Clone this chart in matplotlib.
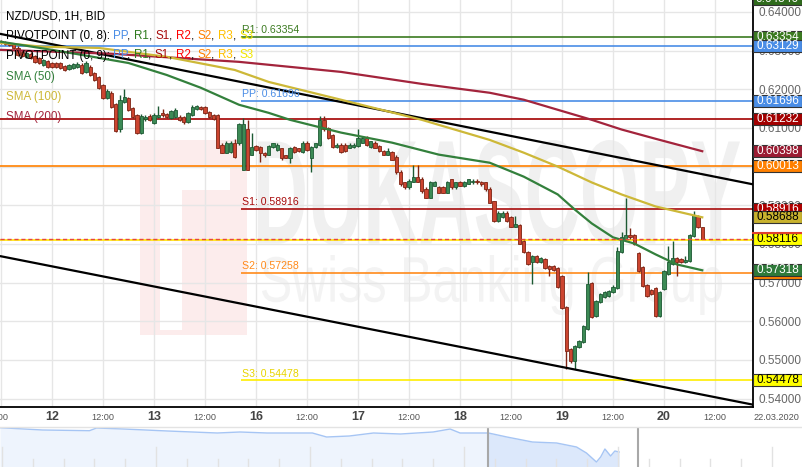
import numpy as np
import matplotlib
matplotlib.use("Agg")
import matplotlib.pyplot as plt
from matplotlib.patches import Rectangle, PathPatch
from matplotlib.lines import Line2D
from matplotlib.textpath import TextPath
from matplotlib.font_manager import FontProperties
from matplotlib.ticker import FormatStrFormatter
from matplotlib.transforms import Affine2D, blended_transform_factory

plt.rcParams["font.family"] = ["Liberation Sans", "DejaVu Sans"]

# Świece godzinowe NZD/USD, od 11.03 12:00 do 20.03 09:00
opens = [
    0.6325, 0.6323, 0.6320, 0.6317, 0.6307, 0.6297, 0.6284, 0.6292, 0.6287, 0.6281,
    0.6263, 0.6274, 0.6268, 0.6268, 0.6268, 0.6261, 0.6253, 0.6256, 0.6258, 0.6263,
    0.6245, 0.6258, 0.6243, 0.6232, 0.6212, 0.6178, 0.6191, 0.6163, 0.6096, 0.6168,
    0.6178, 0.6152, 0.6134, 0.6088, 0.6124, 0.6132, 0.6114, 0.6129, 0.6139, 0.6137,
    0.6127, 0.6129, 0.6129, 0.6129, 0.6116, 0.6134, 0.6150, 0.6155, 0.6155, 0.6142,
    0.6134, 0.6134, 0.6057, 0.6036, 0.6039, 0.6062, 0.6062, 0.5992, 0.6098, 0.6031,
    0.6054, 0.6052, 0.6036, 0.6031, 0.6052, 0.6044, 0.6047, 0.6029, 0.6021, 0.6052,
    0.6047, 0.6039, 0.6062, 0.6023, 0.6052, 0.6057, 0.6121, 0.6101, 0.6083, 0.6052,
    0.6057, 0.6057, 0.6049, 0.6052, 0.6054, 0.6062, 0.6075, 0.6052, 0.6062, 0.6054,
    0.6041, 0.6031, 0.6039, 0.6026, 0.5987, 0.5959, 0.5946, 0.5961, 0.5974, 0.5969,
    0.5943, 0.5920, 0.5951, 0.5946, 0.5946, 0.5933, 0.5967, 0.5946, 0.5961, 0.5949,
    0.5956, 0.5959, 0.5964, 0.5961, 0.5959, 0.5943, 0.5910, 0.5858, 0.5869, 0.5881,
    0.5869, 0.5845, 0.5848, 0.5807, 0.5778, 0.5752, 0.5768, 0.5752, 0.5760, 0.5742,
    0.5742, 0.5737, 0.5716, 0.5636, 0.5528, 0.5497, 0.5533, 0.5546, 0.5580, 0.5698,
    0.5613, 0.5649, 0.5662, 0.5665, 0.5675, 0.5685, 0.5778, 0.5814, 0.5822, 0.5822,
    0.5776, 0.5740, 0.5693, 0.5680, 0.5685, 0.5613, 0.5683, 0.5721, 0.5747, 0.5763,
    0.5760, 0.5752, 0.5755, 0.5820, 0.5871, 0.5843,
]
highs = [
    0.6328, 0.6325, 0.6323, 0.6320, 0.6312, 0.6302, 0.6299, 0.6297, 0.6289, 0.6284,
    0.6279, 0.6276, 0.6271, 0.6271, 0.6271, 0.6263, 0.6266, 0.6268, 0.6271, 0.6268,
    0.6274, 0.6263, 0.6245, 0.6235, 0.6214, 0.6201, 0.6196, 0.6165, 0.6186, 0.6201,
    0.6181, 0.6155, 0.6137, 0.6137, 0.6134, 0.6137, 0.6139, 0.6158, 0.6150, 0.6139,
    0.6147, 0.6152, 0.6134, 0.6132, 0.6142, 0.6160, 0.6160, 0.6158, 0.6158, 0.6145,
    0.6137, 0.6137, 0.6060, 0.6065, 0.6067, 0.6072, 0.6114, 0.6127, 0.6121, 0.6088,
    0.6057, 0.6054, 0.6039, 0.6057, 0.6062, 0.6060, 0.6049, 0.6031, 0.6052, 0.6054,
    0.6049, 0.6065, 0.6065, 0.6054, 0.6062, 0.6132, 0.6132, 0.6103, 0.6085, 0.6060,
    0.6060, 0.6060, 0.6060, 0.6060, 0.6098, 0.6078, 0.6078, 0.6067, 0.6065, 0.6057,
    0.6044, 0.6047, 0.6041, 0.6029, 0.5990, 0.5961, 0.5967, 0.6005, 0.6005, 0.5972,
    0.5946, 0.5964, 0.5964, 0.5949, 0.5949, 0.5964, 0.5969, 0.5961, 0.5964, 0.5964,
    0.5969, 0.5969, 0.5967, 0.5964, 0.5961, 0.5946, 0.5912, 0.5884, 0.5884, 0.5884,
    0.5871, 0.5871, 0.5851, 0.5809, 0.5781, 0.5771, 0.5771, 0.5765, 0.5763, 0.5745,
    0.5745, 0.5740, 0.5719, 0.5639, 0.5531, 0.5538, 0.5551, 0.5590, 0.5727, 0.5701,
    0.5654, 0.5672, 0.5678, 0.5680, 0.5693, 0.5791, 0.5830, 0.5918, 0.5840, 0.5825,
    0.5778, 0.5742, 0.5696, 0.5683, 0.5688, 0.5678, 0.5732, 0.5794, 0.5807, 0.5765,
    0.5763, 0.5768, 0.5825, 0.5884, 0.5874, 0.5845,
]
lows = [
    0.6317, 0.6315, 0.6312, 0.6305, 0.6287, 0.6284, 0.6281, 0.6279, 0.6268, 0.6266,
    0.6261, 0.6256, 0.6256, 0.6256, 0.6253, 0.6248, 0.6250, 0.6253, 0.6256, 0.6240,
    0.6243, 0.6235, 0.6222, 0.6201, 0.6176, 0.6176, 0.6152, 0.6090, 0.6090, 0.6165,
    0.6145, 0.6127, 0.6085, 0.6085, 0.6119, 0.6119, 0.6111, 0.6127, 0.6129, 0.6127,
    0.6124, 0.6127, 0.6119, 0.6111, 0.6114, 0.6132, 0.6147, 0.6147, 0.6137, 0.6127,
    0.6121, 0.6047, 0.6034, 0.6034, 0.6036, 0.6023, 0.6057, 0.5990, 0.5990, 0.6029,
    0.6041, 0.6013, 0.6026, 0.6029, 0.6049, 0.6041, 0.6018, 0.6021, 0.6010, 0.6036,
    0.6039, 0.6036, 0.6041, 0.5987, 0.6049, 0.6054, 0.6093, 0.6072, 0.6049, 0.6049,
    0.6036, 0.6039, 0.6047, 0.6049, 0.6052, 0.6060, 0.6054, 0.6049, 0.6047, 0.6039,
    0.6029, 0.6029, 0.6016, 0.5982, 0.5949, 0.5943, 0.5943, 0.5959, 0.5959, 0.5933,
    0.5918, 0.5918, 0.5949, 0.5931, 0.5931, 0.5931, 0.5943, 0.5943, 0.5949, 0.5946,
    0.5954, 0.5956, 0.5956, 0.5951, 0.5938, 0.5905, 0.5856, 0.5856, 0.5866, 0.5856,
    0.5843, 0.5843, 0.5799, 0.5776, 0.5745, 0.5696, 0.5750, 0.5750, 0.5734, 0.5716,
    0.5729, 0.5685, 0.5631, 0.5476, 0.5492, 0.5476, 0.5531, 0.5543, 0.5577, 0.5608,
    0.5611, 0.5647, 0.5660, 0.5662, 0.5672, 0.5683, 0.5776, 0.5812, 0.5814, 0.5796,
    0.5727, 0.5688, 0.5662, 0.5667, 0.5611, 0.5611, 0.5680, 0.5719, 0.5745, 0.5716,
    0.5750, 0.5750, 0.5752, 0.5817, 0.5840, 0.5812,
]
closes = [
    0.6320, 0.6317, 0.6315, 0.6307, 0.6289, 0.6287, 0.6294, 0.6281, 0.6271, 0.6268,
    0.6276, 0.6258, 0.6258, 0.6258, 0.6256, 0.6250, 0.6263, 0.6266, 0.6266, 0.6243,
    0.6268, 0.6237, 0.6225, 0.6204, 0.6178, 0.6196, 0.6155, 0.6093, 0.6173, 0.6181,
    0.6147, 0.6129, 0.6088, 0.6132, 0.6129, 0.6121, 0.6134, 0.6134, 0.6134, 0.6129,
    0.6145, 0.6147, 0.6121, 0.6116, 0.6139, 0.6155, 0.6158, 0.6150, 0.6139, 0.6129,
    0.6124, 0.6049, 0.6036, 0.6062, 0.6062, 0.6026, 0.6109, 0.6111, 0.5992, 0.6052,
    0.6044, 0.6036, 0.6029, 0.6054, 0.6060, 0.6057, 0.6021, 0.6023, 0.6049, 0.6039,
    0.6041, 0.6062, 0.6044, 0.6052, 0.6060, 0.6121, 0.6096, 0.6075, 0.6052, 0.6057,
    0.6039, 0.6041, 0.6057, 0.6057, 0.6075, 0.6075, 0.6057, 0.6065, 0.6049, 0.6041,
    0.6031, 0.6041, 0.6018, 0.5985, 0.5954, 0.5946, 0.5964, 0.5972, 0.5961, 0.5936,
    0.5920, 0.5961, 0.5961, 0.5933, 0.5933, 0.5961, 0.5946, 0.5959, 0.5951, 0.5961,
    0.5967, 0.5964, 0.5959, 0.5954, 0.5941, 0.5907, 0.5858, 0.5881, 0.5881, 0.5858,
    0.5845, 0.5851, 0.5801, 0.5778, 0.5747, 0.5768, 0.5752, 0.5763, 0.5737, 0.5734,
    0.5732, 0.5688, 0.5634, 0.5523, 0.5497, 0.5536, 0.5549, 0.5587, 0.5696, 0.5611,
    0.5652, 0.5670, 0.5675, 0.5678, 0.5688, 0.5781, 0.5817, 0.5822, 0.5817, 0.5799,
    0.5729, 0.5691, 0.5665, 0.5670, 0.5613, 0.5675, 0.5729, 0.5752, 0.5763, 0.5752,
    0.5752, 0.5758, 0.5822, 0.5874, 0.5843, 0.58116,
]

# Średnie kroczące (numer świecy, wartość)
sma50_idx = [0, 12, 19, 30, 39, 47, 56, 63, 68, 80, 92, 103, 115, 123, 131, 135, 139, 144, 149, 154, 159, 165]
sma50_val = [0.6323, 0.6302, 0.6289, 0.6268, 0.6237, 0.6204, 0.6160, 0.6139, 0.6121, 0.6088, 0.6062,
             0.6031, 0.6010, 0.5974, 0.5928, 0.5889, 0.5853, 0.5817, 0.5801, 0.5773, 0.5747, 0.57318]
sma100_idx = [0, 10, 23, 39, 55, 63, 80, 99, 115, 123, 131, 139, 146, 154, 165]
sma100_val = [0.6320, 0.6310, 0.6307, 0.6284, 0.6250, 0.6219, 0.6173, 0.6121, 0.6069, 0.6036,
              0.6000, 0.5959, 0.5928, 0.5897, 0.58688]
sma200_idx = [0, 26, 56, 80, 99, 115, 123, 131, 139, 146, 154, 165]
sma200_val = [0.6302, 0.6292, 0.6271, 0.6245, 0.6214, 0.6191, 0.6173, 0.6147, 0.6121, 0.6096,
              0.6072, 0.60398]

# Linie trendu
trend_up_idx = [0, 177]
trend_up_val = [0.6343, 0.5954]
trend_down_idx = [0, 177]
trend_down_val = [0.5768, 0.5384]

# Pivot (0, 8)
pivot8_names = ["R1", "PP", "S1", "S2", "S3"]
pivot8_vals = [0.63354, 0.61696, 0.58916, 0.57258, 0.54478]
pivot8_cols = ["#3b7a20", "#4a8de6", "#a80c0c", "#ff8a1a", "#ffee00"]
pivot8_txt = ["#3b7a20", "#4a8de6", "#a80c0c", "#ff8a1a", "#e8d400"]
# Pivot (0, 9)
pivot9_vals = [0.63129, 0.61232, 0.60013, 0.58100]
pivot9_cols = ["#4a8de6", "#a30000", "#ff8000", "#ffe600"]
last_price = 0.58116

# Znaczniki po prawej (rysowane po kolei)
box_vals = [0.64546, 0.63354, 0.63129, 0.61696, 0.61232, 0.60398, 0.60013, 0.58916, 0.58688,
            0.58116, 0.57258, 0.57318, 0.54478]
box_fc = ["#2f6b1c", "#3b7a20", "#4a8de6", "#4a8de6", "#a30000", "#9b1b32", "#ff8000", "#b00000",
          "#c8b22e", "#ffff00", "#ff8000", "#2f7a3a", "#ffff00"]
box_tc = ["white", "white", "white", "white", "white", "white", "white", "white", "black",
          "black", "white", "white", "black"]

day_ticks = [12, 36, 60, 84, 108, 132, 156]
day_labels = ["12", "13", "16", "17", "18", "19", "20"]
half_ticks = [0, 24, 48, 72, 96, 120, 144, 168]

# Nawigator (dni, cena)
nav_days = [0.0, 3.0, 6.3, 6.8, 8.7, 11.8, 15.3, 16.9, 18.8, 22.0, 23.0, 24.6, 26.3, 28.2, 30.5,
            31.7, 32.4, 34.4, 35.7, 37.5, 39.2, 40.6, 41.3, 42.0, 42.3, 42.6, 43.0, 43.3, 43.6]
nav_vals = [0.6474, 0.6407, 0.6387, 0.6465, 0.6436, 0.6378, 0.6320, 0.6349, 0.6320, 0.6320, 0.6204,
            0.6233, 0.6320, 0.6291, 0.6349, 0.6436, 0.6320, 0.6320, 0.6204, 0.6059, 0.6030, 0.5914,
            0.5740, 0.5479, 0.5624, 0.5856, 0.5653, 0.5798, 0.5769]
nav_window = [34.4, 44.9]

W, H = 803, 467
fig = plt.figure(figsize=(W / 100, H / 100), dpi=100)
PX = Affine2D().scale(1 / W, -1 / H).translate(0, 1) + fig.transFigure

ax = fig.add_axes([0, (H - 407) / H, 753 / W, 407 / H])
ax.set_xlim(-0.235, 176.94)
ax.set_ylim(0.53781, 0.64310)

ax.set_xticks(np.arange(0, 177, 12))
ax.set_yticks(np.round(np.arange(0.54, 0.6401, 0.01), 2))
ax.grid(True, color="#e6e6e6", lw=1)
ax.set_axisbelow(True)
ax.tick_params(axis="x", length=0, labelbottom=False)
ax.yaxis.tick_right()
ax.tick_params(axis="y", length=0, pad=4, labelsize=8.5, labelcolor="#666666")
ax.yaxis.set_major_formatter(FormatStrFormatter("%.5f"))
for s in ["top", "left"]:
    ax.spines[s].set_visible(False)
for s in ["right", "bottom"]:
    ax.spines[s].set_color("black")
    ax.spines[s].set_linewidth(1.3)


# Znak wodny
def fit_text(s, box, color, weight):
    tp = TextPath((0, 0), s, size=100, prop=FontProperties(family="Liberation Sans", weight=weight))
    bb = tp.get_extents()
    x0, y0, x1, y1 = box
    tr = Affine2D().translate(-bb.x0, -bb.y0).scale((x1 - x0) / bb.width, -(y1 - y0) / bb.height)
    tr = tr.translate(x0, y1) + PX
    ax.add_patch(PathPatch(tp, transform=tr, fc=color, ec="none", zorder=0.2))


ax.add_patch(Rectangle((140, 140), 107, 195, transform=PX, fc="#fcecec", ec="none", zorder=0.1))
ax.add_patch(Rectangle((160, 168), 22, 162, transform=PX, fc="white", ec="none", zorder=0.15))
ax.add_patch(Rectangle((160, 168), 70, 22, transform=PX, fc="white", ec="none", zorder=0.15))
fit_text("DUKASCOPY", (258, 140, 740, 245), "#f0f0f0", "bold")
fit_text("Swiss Banking Group", (262, 255, 722, 315), "#f3f3f3", "normal")

# Poziomy pivot
for v, c in zip(pivot9_vals, pivot9_cols):
    ax.axhline(v, color=c, lw=1.2, zorder=1.5)
start = (241 - 1) / 4.25
for name, v, c, tc in zip(pivot8_names, pivot8_vals, pivot8_cols, pivot8_txt):
    ax.hlines(v, start, 177, color=c, lw=1.2, zorder=1.5)
    ax.text(start + 0.2, v + 0.0004, f"{name}: {v:.5f}", color=tc, fontsize=7.6,
            va="bottom", ha="left", zorder=6)

# Świece
o = np.array(opens)
h = np.array(highs)
l = np.array(lows)
c = np.array(closes)
idx = np.arange(len(o))
up = c >= o
face = np.where(up, "#3c8a55", "#cc4530")
edge = np.where(up, "#1d5a33", "#7e2414")
ax.vlines(idx, l, h, colors=edge, lw=1, zorder=3)
ax.bar(idx, np.maximum(np.abs(c - o), 0.00025), bottom=np.minimum(o, c), width=0.72,
       color=face, edgecolor=edge, linewidth=0.6, zorder=3.5)

# Linie trendu i średnie
ax.plot(trend_up_idx, trend_up_val, color="black", lw=1.6, zorder=4)
ax.plot(trend_down_idx, trend_down_val, color="black", lw=1.6, zorder=4)
ax.plot(sma200_idx, sma200_val, color="#a3243c", lw=1.6, zorder=4.2)
ax.plot(sma100_idx, sma100_val, color="#cdb838", lw=1.6, zorder=4.2)
ax.plot(sma50_idx, sma50_val, color="#33803c", lw=1.6, zorder=4.2)
ax.axhline(last_price, color="#e8473b", lw=1, ls=(0, (3, 2)), zorder=4.5)

# Znaczniki cen po prawej
box_tr = blended_transform_factory(PX, ax.transData)
bh = 12 * 0.0002587
for k, (v, fc, tc) in enumerate(zip(box_vals, box_fc, box_tc)):
    yv = min(v, 0.64336)
    z = 7 + 0.1 * k
    ax.add_patch(Rectangle((753, yv - bh / 2), 49, bh, transform=box_tr, fc=fc, ec="#333333",
                           lw=0.8, clip_on=False, zorder=z))
    ax.text(777.5, yv, f"{v:.5f}", transform=box_tr, ha="center", va="center", color=tc,
            fontsize=8.5, clip_on=False, zorder=z + 0.05)
    if v == last_price:
        ax.add_line(Line2D([753, 803], [v + bh / 2] * 2, transform=box_tr, color="#e0402f",
                           lw=1.5, clip_on=False, zorder=z + 0.06))

# Etykiety osi X
xl_tr = blended_transform_factory(ax.transData, PX)
for i, s in zip(day_ticks, day_labels):
    ax.text(i, 417, s, transform=xl_tr, ha="center", va="center", fontsize=9, fontweight="bold",
            color="#444444", clip_on=False)
for i in half_ticks[1:]:
    ax.text(i, 417.5, "12:00", transform=xl_tr, ha="center", va="center", fontsize=6.6,
            color="#555555", clip_on=False)
fig.text(8, 417.5, "12:00", transform=PX, ha="right", va="center", fontsize=6.6, color="#555555")
fig.text(776, 417.5, "22.03.2020", transform=PX, ha="center", va="center", fontsize=6.6,
         color="#555555")


# Legenda
def legend_line(x, y, parts, size=8.4):
    r = fig.canvas.get_renderer()
    prop = FontProperties(family="Liberation Sans", size=size)
    done = ""
    for s, col in parts:
        w_all = r.get_text_width_height_descent(done + s + "x", prop, ismath=False)[0]
        w_seg = r.get_text_width_height_descent(s + "x", prop, ismath=False)[0]
        fig.text(x + w_all - w_seg, y, s, transform=PX, color=col, fontsize=size,
                 va="baseline", ha="left", zorder=10)
        done += s


piv_cols = [("PP", "#4a8de6"), ("R1", "#2e7a1e"), ("S1", "#a80c0c"), ("R2", "#ff0000"),
            ("S2", "#ff8000"), ("R3", "#ffc000"), ("S3", "#f2e600")]
for k, yy in [(8, 39.3), (9, 58.5)]:
    parts = [(f"PIVOTPOINT (0, {k}): ", "black")]
    for j, (n, col) in enumerate(piv_cols):
        parts.append((n, col))
        if j < len(piv_cols) - 1:
            parts.append((", ", "black"))
    legend_line(6, yy, parts)
legend_line(6, 19.3, [("NZD/USD, 1H, BID", "black")])
legend_line(6, 80, [("SMA (50)", "#33803c")])
legend_line(6, 100, [("SMA (100)", "#cdb838")])
legend_line(6, 120, [("SMA (200)", "#a3243c")])

# Nawigator
nav = fig.add_axes([0, 0, 1, 40 / H])
nav.set_xlim(0, W / 14.2)
nav.set_ylim(0.5334, 0.6494)
nav.set_axis_off()
nd = np.array(nav_days)
nv = np.array(nav_vals)
m1 = nd <= nav_window[0]
m2 = nd >= nav_window[0]
nav.fill_between(nd[m1], nv[m1], 0.5334, color="#eef4fd", lw=0, zorder=1)
nav.fill_between(nd[m2], nv[m2], 0.5334, color="#dce8fb", lw=0, zorder=1)
nav.plot(nd, nv, color="#a6c5f4", lw=1, zorder=2)
for k, d in enumerate(np.arange(27) * 30.8 / 14.2 + 2 / 14.2):
    nav.axvline(d, ymin=0, ymax=0.5 if k % 5 == 0 else 0.2, color="#e2e2e2", lw=1, zorder=3)
for d in nav_window:
    nav.axvline(d, color="#a8a8a8", lw=1.5, zorder=4)
fig.add_artist(Line2D([0, W], [427, 427], transform=PX, color="#e3e3e3", lw=1))

fig.savefig("out.png", dpi=100)
